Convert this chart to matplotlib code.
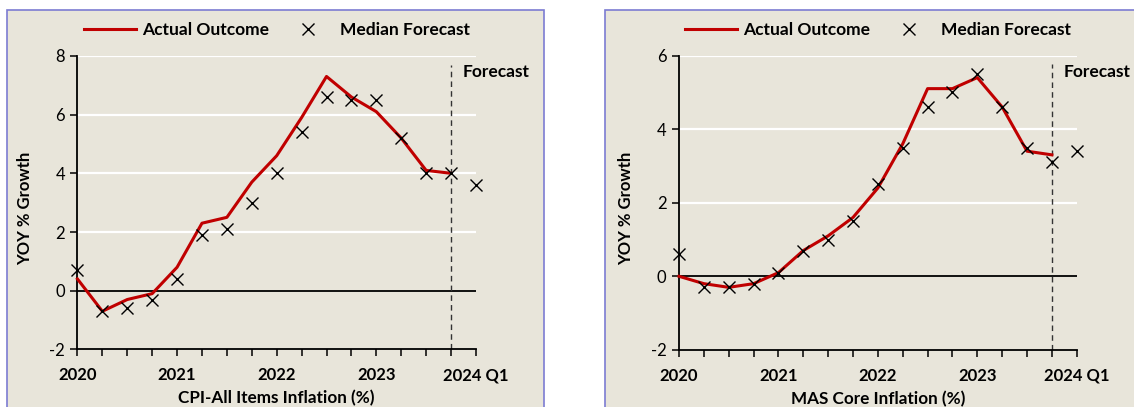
import matplotlib
matplotlib.use("Agg")
import matplotlib.pyplot as plt
from matplotlib.patches import Rectangle

plt.rcParams['font.family'] = ['Lato', 'DejaVu Sans']
plt.rcParams['axes.unicode_minus'] = False

# quarterly data, 2020 Q1 .. 2023 Q4 outcome, forecasts run to 2024 Q1
cpi_actual = [0.4, -0.7, -0.3, -0.1, 0.8, 2.3, 2.5, 3.7,
              4.6, 5.9, 7.3, 6.6, 6.1, 5.2, 4.1, 4.0]
cpi_forecast = [0.7, -0.7, -0.6, -0.3, 0.4, 1.9, 2.1, 3.0,
                4.0, 5.4, 6.6, 6.5, 6.5, 5.2, 4.0, 4.0, 3.6]
core_actual = [0.0, -0.2, -0.3, -0.2, 0.1, 0.7, 1.1, 1.6,
               2.4, 3.6, 5.1, 5.1, 5.4, 4.6, 3.4, 3.3]
core_forecast = [0.6, -0.3, -0.3, -0.2, 0.1, 0.7, 1.0, 1.5,
                 2.5, 3.5, 4.6, 5.0, 5.5, 4.6, 3.5, 3.1, 3.4]
year_labels = ["2020", "2021", "2022", "2023", "2024 Q1"]

bg = "#E8E5DA"
red = "#C00000"

fig = plt.figure(figsize=(11.34, 4.07), dpi=100)
W, H = 1134, 407

# panel boxes behind the axes
for x0, x1 in [(7, 544), (605, 1140)]:
    fig.patches.append(Rectangle((x0 / W, -0.05), (x1 - x0) / W, 1 - 10 / H + 0.05,
                                 transform=fig.transFigure, facecolor=bg,
                                 edgecolor="#7C7CD2", linewidth=1.2, zorder=-5))


def panel(rect, actual, forecast, ymin, ymax, xlabel, fc_y):
    ax = fig.add_axes(rect)
    ax.set_facecolor("none")
    q = list(range(len(forecast)))
    ax.set_xlim(0, 16)
    ax.set_ylim(ymin, ymax)
    for g in range(2, ymax + 1, 2):
        ax.axhline(g, color="white", lw=1.6, zorder=1)
    ax.axhline(0, color="black", lw=1.3, zorder=2)
    ax.axvline(15, ymax=0.97, color="#333333", lw=1.0, ls=(0, (4, 3)), zorder=2)
    ax.plot(q[:len(actual)], actual, color=red, lw=2.2, zorder=3,
            label="Actual Outcome", clip_on=False)
    ax.plot(q, forecast, ls="none", marker="x", ms=9, mew=1.0, color="black",
            zorder=4, label="Median Forecast", clip_on=False)

    for s in ["top", "right"]:
        ax.spines[s].set_visible(False)
    ax.spines["left"].set_linewidth(1.3)
    ax.spines["bottom"].set_linewidth(1.3)
    ax.set_yticks(range(ymin, ymax + 1, 2))
    ax.set_xticks(range(0, 17, 4))
    ax.set_xticklabels(year_labels, fontweight="bold", fontsize=12)
    ax.set_xticks(range(0, 17), minor=True)
    ax.tick_params(axis="x", which="both", length=5, width=1.1, pad=8)
    ax.tick_params(axis="y", length=5, width=1.1, labelsize=12, pad=4)

    ax.set_ylabel("YOY % Growth", fontweight="bold", fontsize=12)
    ax.yaxis.set_label_coords(-0.112, 0.48)
    ax.set_xlabel(xlabel, fontweight="bold", fontsize=12.3)
    ax.xaxis.set_label_coords(0.5, -0.138)

    ax.text(15.48, fc_y, "Forecast", fontweight="bold", fontsize=12.5,
            va="center", ha="left")
    ax.legend(loc="center", bbox_to_anchor=(0.5, 1.088), ncol=2, frameon=False,
              prop={"weight": "bold", "size": 12.5}, handlelength=3.0,
              columnspacing=0.75, handletextpad=0.35)
    return ax


panel([0.0683, 0.1415, 0.3514, 0.7211], cpi_actual, cpi_forecast, -2, 8,
      "CPI-All Items Inflation (%)", 7.46)
panel([0.5988, 0.1403, 0.3507, 0.7233], core_actual, core_forecast, -2, 6,
      "MAS Core Inflation (%)", 5.56)

fig.savefig("out.png", dpi=100)
